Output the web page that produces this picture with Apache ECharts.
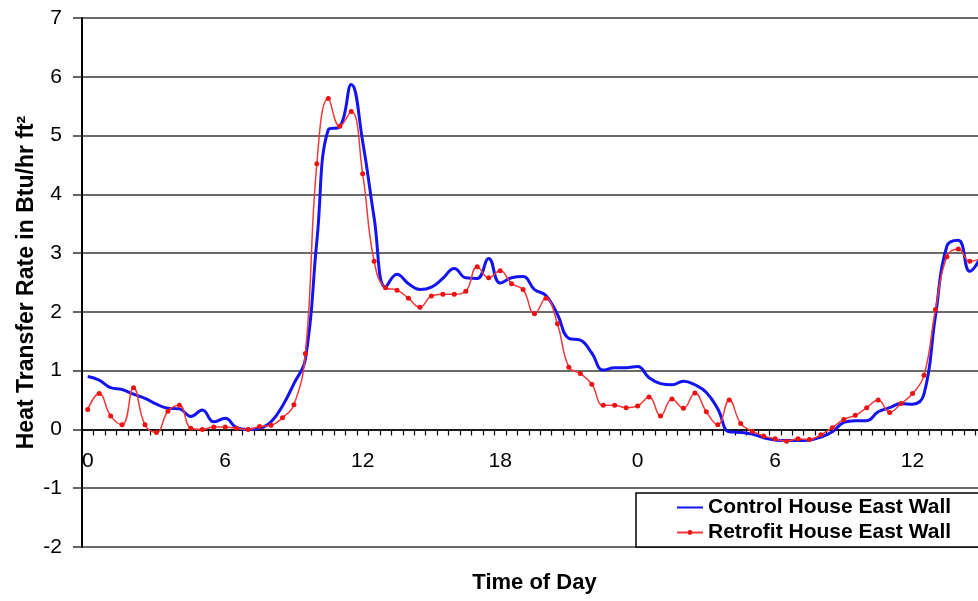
<!DOCTYPE html>
<html>
<head>
<meta charset="utf-8">
<title>Heat Transfer Rate – East Wall</title>
<script src="https://cdn.jsdelivr.net/npm/echarts@6/dist/echarts.min.js"></script>
<style>
  html, body { margin: 0; padding: 0; overflow: hidden; background: #fff; }
  #chart { width: 1000px; height: 601px; }
</style>
</head>
<body>
<div id="chart"></div>
<script>
// Half-hour readings over roughly a day and a half
const categories = [
  "0:00","0:30","1:00","1:30","2:00","2:30","3:00","3:30","4:00","4:30","5:00","5:30",
  "6:00","6:30","7:00","7:30","8:00","8:30","9:00","9:30","10:00","10:30","11:00","11:30",
  "12:00","12:30","13:00","13:30","14:00","14:30","15:00","15:30","16:00","16:30","17:00","17:30",
  "18:00","18:30","19:00","19:30","20:00","20:30","21:00","21:30","22:00","22:30","23:00","23:30",
  "0:00","0:30","1:00","1:30","2:00","2:30","3:00","3:30","4:00","4:30","5:00","5:30",
  "6:00","6:30","7:00","7:30","8:00","8:30","9:00","9:30","10:00","10:30","11:00","11:30",
  "12:00","12:30","13:00","13:30","14:00","14:30","15:00"
];

const tickLabels = ["0", "6", "12", "18", "0", "6", "12"];

const controlEastWall = [
  0.90, 0.84, 0.71, 0.68, 0.60, 0.53, 0.43, 0.36, 0.35, 0.22, 0.33, 0.13,
  0.19, 0.03, 0.00, 0.02, 0.13, 0.40, 0.78, 1.20, 3.20, 5.10, 5.15, 5.87,
  4.90, 3.60, 2.42, 2.64, 2.48, 2.38, 2.42, 2.57, 2.74, 2.58, 2.57, 2.91,
  2.49, 2.58, 2.60, 2.38, 2.28, 1.96, 1.55, 1.52, 1.30, 1.01, 1.05, 1.05,
  1.07, 0.88, 0.78, 0.76, 0.82, 0.76, 0.63, 0.35, -0.04, -0.05, -0.08, -0.14,
  -0.18, -0.19, -0.19, -0.18, -0.13, -0.04, 0.12, 0.15, 0.15, 0.30, 0.37, 0.44,
  0.43, 0.60, 1.93, 3.12, 3.22, 2.69, 2.95
];

const retrofitEastWall = [
  0.34, 0.61, 0.23, 0.08, 0.71, 0.08, -0.05, 0.31, 0.41, 0.02, 0.00, 0.04,
  0.04, 0.02, 0.00, 0.05, 0.07, 0.20, 0.42, 1.29, 4.52, 5.63, 5.16, 5.41,
  4.35, 2.86, 2.41, 2.37, 2.23, 2.08, 2.27, 2.30, 2.30, 2.35, 2.77, 2.58,
  2.70, 2.48, 2.38, 1.97, 2.23, 1.80, 1.06, 0.95, 0.77, 0.41, 0.41, 0.37,
  0.40, 0.55, 0.23, 0.52, 0.36, 0.62, 0.30, 0.08, 0.50, 0.10, -0.03, -0.11,
  -0.16, -0.20, -0.16, -0.17, -0.09, 0.03, 0.17, 0.24, 0.37, 0.50, 0.29, 0.44,
  0.61, 0.92, 2.04, 2.94, 3.07, 2.86, 2.91
];

const FONT = "'Liberation Sans', Arial, sans-serif";

const chart = echarts.init(document.getElementById('chart'), null, { renderer: 'canvas' });

chart.setOption({
  animation: false,
  backgroundColor: '#ffffff',
  grid: { left: 82, top: 18, bottom: 54, right: 13, containLabel: false, outerBoundsMode: 'none' },
  legend: {
    orient: 'vertical',
    left: 636,
    top: 493,
    padding: [4, 60, 4, 40],
    itemGap: 4,
    itemWidth: 26,
    itemHeight: 6,
    backgroundColor: '#ffffff',
    borderColor: '#000000',
    borderWidth: 1.5,
    borderRadius: 0,
    textStyle: { fontFamily: FONT, fontSize: 21, fontWeight: 'bold', color: '#000' },
    data: [
      { name: 'Control House East Wall', itemStyle: { opacity: 0 } },
      { name: 'Retrofit House East Wall' }
    ]
  },
  xAxis: {
    type: 'category',
    data: categories,
    boundaryGap: true,
    name: 'Time of Day',
    nameLocation: 'middle',
    nameGap: 25,
    nameMoveOverlap: false,
    nameTextStyle: { fontFamily: FONT, fontSize: 22, fontWeight: 'bold', color: '#000' },
    axisLine: { onZero: true, lineStyle: { color: '#000', width: 1.5 } },
    axisTick: { show: true, interval: 0, length: 6, alignWithLabel: false, lineStyle: { color: '#000', width: 1.2 } },
    axisLabel: {
      interval: 11,
      margin: -96,
      fontFamily: FONT,
      fontSize: 21,
      color: '#000',
      formatter: function (value, index) {
        return tickLabels[Math.round(index / 12)] || '';
      }
    },
    splitLine: { show: false }
  },
  yAxis: {
    type: 'value',
    min: -2,
    max: 7,
    interval: 1,
    name: 'Heat Transfer Rate in Btu/hr ft²',
    nameLocation: 'middle',
    nameGap: 44,
    nameMoveOverlap: false,
    nameRotate: 90,
    nameTextStyle: { fontFamily: FONT, fontSize: 23, fontWeight: 'bold', color: '#000' },
    axisLine: { show: true, onZero: false, lineStyle: { color: '#000', width: 2 } },
    axisTick: { show: true, length: 9, lineStyle: { color: '#333', width: 1.5 } },
    axisLabel: { margin: 20, fontFamily: FONT, fontSize: 21, color: '#000' },
    splitLine: { show: true, lineStyle: { color: '#3a3a3a', width: 1.6 } }
  },
  series: [
    {
      name: 'Control House East Wall',
      type: 'line',
      data: controlEastWall,
      smooth: 0.45,
      symbol: 'none',
      lineStyle: { color: '#1414f0', width: 3 },
      itemStyle: { color: '#1414f0' },
      z: 3
    },
    {
      name: 'Retrofit House East Wall',
      type: 'line',
      data: retrofitEastWall,
      smooth: 0.45,
      symbol: 'circle',
      symbolSize: 5,
      showSymbol: true,
      lineStyle: { color: '#f03a3a', width: 1.5 },
      itemStyle: { color: '#ee1111' },
      z: 4
    }
  ]
});
</script>
</body>
</html>
